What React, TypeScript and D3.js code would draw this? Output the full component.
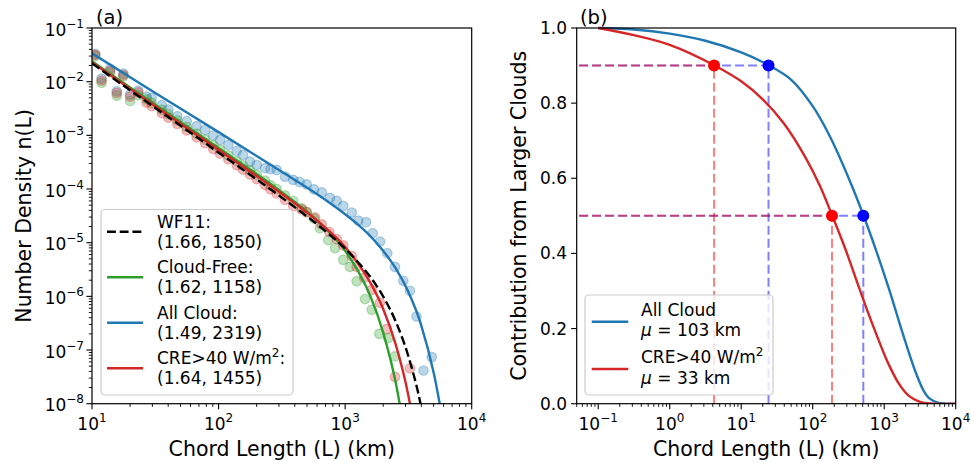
import React from "react";
import * as d3 from "d3";

const W = 971;
const H = 463;
const FONT = "'DejaVu Sans', sans-serif";

// ---------- Panel (a): fitted curves ----------
const fitL = [10, 31.6, 100, 316, 631, 1000, 1259, 1585, 1995, 2512, 3162, 3981, 5012, 6310];
const fitAllCloud = [3.39e-2, 6.17e-3, 1.148e-3, 2.09e-4, 7.41e-5, 3.39e-5, 2.19e-5, 1.318e-5, 7.08e-6, 3.31e-6, 1.2e-6, 2.95e-7, 3.72e-8, 2.0e-9];
const fitCRE = [2.29e-2, 3.47e-3, 5.37e-4, 8.13e-5, 2.34e-5, 8.32e-6, 4.17e-6, 1.78e-6, 5.89e-7, 1.26e-7, 1.41e-8, 5.0e-10];
const fitCloudFree = [2.4e-2, 3.72e-3, 5.82e-4, 8.71e-5, 2.34e-5, 7.08e-6, 3.02e-6, 1.0e-6, 2.14e-7, 2.45e-8, 1e-9];
const fitWF11 = [2.19e-2, 3.24e-3, 4.79e-4, 6.92e-5, 2.0e-5, 7.76e-6, 4.37e-6, 2.29e-6, 1.0e-6, 3.39e-7, 7.59e-8, 8.91e-9, 3.2e-10];

// ---------- Panel (a): observed histogram points ----------
const allCloudL = [10.6, 11.9, 13.9, 15.7, 17.7, 20.0, 23.2, 27.0, 29.6, 35.6, 40.1, 47.2, 56.0, 67.1, 78.2, 90.8, 102.6, 119.4, 139.0, 156.0, 177.0, 200.0, 232.8, 257, 287.7, 335.0, 389.0, 437, 496.6, 567.5, 653.1, 758.6, 857.0, 966.1, 1127, 1270, 1462, 1651, 1885, 2153, 2477, 2882, 3251, 3662, 4159, 4831];
const allCloudN = [3.28e-2, 1.14e-2, 1.75e-2, 6.62e-3, 1.41e-2, 5.73e-3, 6.79e-3, 5.26e-3, 4.97e-3, 3.64e-3, 3.01e-3, 2.27e-3, 1.83e-3, 1.48e-3, 1.26e-3, 9.95e-4, 8.2e-4, 6.62e-4, 5.12e-4, 4.31e-4, 3.24e-4, 2.81e-4, 2.44e-4, 2.34e-4, 2.27e-4, 1.7e-4, 1.48e-4, 1.35e-4, 1.22e-4, 9.84e-5, 8.65e-5, 6.83e-5, 6.0e-5, 4.84e-5, 3.64e-5, 2.58e-5, 2.41e-5, 1.5e-5, 1.05e-5, 6.37e-6, 3.54e-6, 1.95e-6, 1.27e-6, 4.21e-7, 4.15e-8, 7.38e-8];

const creL = [10.6, 11.9, 13.9, 15.7, 17.7, 20.0, 23.2, 27.0, 29.6, 35.6, 40.1, 47.2, 56.0, 67.1, 78.2, 90.8, 102.6, 119.4, 139.0, 156.0, 177.0, 200.0, 232.8, 257, 287.7, 335.0, 389.0, 454, 497, 578, 653, 750, 857, 966, 1127, 1233, 1413, 1622, 1884, 2128, 2477, 3251];
const creN = [3.16e-2, 1.05e-2, 1.58e-2, 6.17e-3, 1.32e-2, 5.25e-3, 6.31e-3, 4.09e-3, 3.52e-3, 2.61e-3, 2.14e-3, 1.64e-3, 1.24e-3, 9.2e-4, 7.18e-4, 5.61e-4, 4.59e-4, 3.58e-4, 2.79e-4, 2.31e-4, 1.87e-4, 1.53e-4, 1.2e-4, 9.95e-5, 8.26e-5, 6.31e-5, 4.81e-5, 4.17e-5, 3.72e-5, 2.95e-5, 2.19e-5, 1.58e-5, 1.17e-5, 8.91e-6, 5.62e-6, 3.55e-6, 2.24e-6, 1.32e-6, 7.59e-7, 2.45e-7, 3.16e-8, 4.57e-8];

const cloudFreeL = [10.6, 11.9, 13.9, 15.7, 17.7, 20.0, 23.2, 27.0, 29.6, 35.6, 40.1, 47.2, 56.0, 67.1, 78.2, 90.8, 102.6, 119.4, 139.0, 156.0, 177.0, 200.0, 232.8, 257, 287.7, 335.0, 389.0, 454, 497, 568, 632, 736, 832, 966, 1091, 1233, 1435, 1622, 1862, 2193, 2477];
const cloudFreeN = [3.02e-2, 9.55e-3, 1.51e-2, 5.5e-3, 1.26e-2, 4.37e-3, 5.62e-3, 4.68e-3, 4.03e-3, 3.0e-3, 2.47e-3, 1.9e-3, 1.44e-3, 1.07e-3, 8.38e-4, 6.58e-4, 5.4e-4, 4.22e-4, 3.3e-4, 2.74e-4, 2.23e-4, 1.83e-4, 1.43e-4, 1.17e-4, 1.0e-4, 7.59e-5, 6.03e-5, 4.37e-5, 3.72e-5, 2.82e-5, 1.86e-5, 1.12e-5, 7.94e-6, 4.79e-6, 3.55e-6, 1.91e-6, 8.91e-7, 5.62e-7, 2.0e-7, 1.66e-7, 7.59e-8];

// ---------- Panel (b): contribution from larger clouds ----------
const contribAllL = [0.1, 0.316, 1, 3.16, 10, 24.1, 50.1, 100, 170, 324, 509, 767, 1178, 1815, 2786, 3548, 4285, 5623, 7943, 10000];
const contribAll = [1.0, 0.996, 0.985, 0.966, 0.935, 0.901, 0.862, 0.792, 0.715, 0.597, 0.503, 0.409, 0.303, 0.187, 0.081, 0.035, 0.014, 0.003, 0.0, 0.0];
const contribCREL = [0.1, 0.316, 1, 4.17, 10, 20, 39.8, 79.4, 126, 186, 282, 398, 562, 794, 1122, 1585, 2239, 3162, 4467, 10000];
const contribCRE = [1.0, 0.981, 0.955, 0.901, 0.858, 0.81, 0.745, 0.655, 0.58, 0.502, 0.415, 0.335, 0.255, 0.18, 0.11, 0.055, 0.02, 0.005, 0.0005, 0.0];

const levels = [0.9, 0.5];
const levelAllL = [24.1, 510];
const levelCREL = [4.17, 186];
const guideStartL = 0.054;

const legendA = [
  { label: "WF11:", params: "(1.66, 1850)" },
  { label: "Cloud-Free:", params: "(1.62, 1158)" },
  { label: "All Cloud:", params: "(1.49, 2319)" },
  { label: "CRE>40 W/m", params: "(1.64, 1455)" },
];

const C_BLUE = "#1f77b4";
const C_GREEN = "#2ca02c";
const C_RED = "#d62728";

const A = { x0: 92, x1: 471.7, y0: 28, y1: 403.7 };
const B = { x0: 576.7, x1: 955.7, y0: 28, y1: 403.7 };

const xa = d3.scaleLog().domain([10, 1e4]).range([A.x0, A.x1]);
const ya = d3.scaleLog().domain([1e-8, 1e-1]).range([A.y1, A.y0]);
const xb = d3.scaleLog().domain([0.05, 1e4]).range([B.x0, B.x1]);
const yb = d3.scaleLinear().domain([0, 1]).range([B.y1, B.y0]);

function minorTicks(domain: number[], lo: number, hi: number) {
  const out: number[] = [];
  for (let e = lo; e <= hi; e++) {
    for (let k = 2; k <= 9; k++) {
      const v = k * Math.pow(10, e);
      if (v >= domain[0] * 0.9999 && v <= domain[1] * 1.0001) out.push(v);
    }
  }
  return out;
}

const TICK = 17;
const SUP = 12;

function PowLabel({ x, y, exp, anchor }: { x: number; y: number; exp: number; anchor: string }) {
  const e = exp < 0 ? "\u2212" + Math.abs(exp) : String(exp);
  return (
    <text x={x} y={y} textAnchor={anchor as any} fontSize={TICK} fontFamily={FONT} fill="#000">
      10
      <tspan dy={-8} fontSize={SUP}>{e}</tspan>
    </text>
  );
}

function zipLine(xs: number[], ys: number[], sx: any, sy: any) {
  const pts = xs.map((x, i) => [x, ys[i]] as [number, number]).filter((p) => p[1] !== undefined);
  return d3
    .line<[number, number]>()
    .x((d) => sx(d[0]))
    .y((d) => sy(Math.max(d[1], 1e-12)))
    .curve(d3.curveMonotoneX)(pts) as string;
}

export default function App() {
  const lineB = (xs: number[], ys: number[]) =>
    d3
      .line<[number, number]>()
      .x((d) => xb(d[0]))
      .y((d) => yb(d[1]))
      .curve(d3.curveCatmullRom.alpha(0.5))(xs.map((x, i) => [x, ys[i]] as [number, number])) as string;

  const aMajorX = [10, 100, 1000, 10000];
  const aMajorY = [-8, -7, -6, -5, -4, -3, -2, -1];
  const aMinorX = minorTicks([10, 1e4], 1, 3);
  const aMinorY = minorTicks([1e-8, 1e-1], -8, -2);
  const bMajorX = [-1, 0, 1, 2, 3, 4];
  const bMinorX = minorTicks([0.05, 1e4], -2, 3);
  const bMajorY = [0, 0.2, 0.4, 0.6, 0.8, 1.0];

  const scatter = (xs: number[], ys: number[], color: string, key: string) =>
    xs.map((x, i) => (
      <circle
        key={key + i}
        cx={xa(x)}
        cy={ya(ys[i])}
        r={4.8}
        fill={color}
        fillOpacity={0.3}
        stroke={color}
        strokeOpacity={0.3}
        strokeWidth={1.2}
      />
    ));

  return (
    <svg width={W} height={H} viewBox={`0 0 ${W} ${H}`} style={{ display: "block", position: "absolute", left: 0, top: 0 }} fontFamily={FONT}>
      <rect x={0} y={0} width={W} height={H} fill="#fff" />
      <defs>
        <clipPath id="clipA">
          <rect x={A.x0} y={A.y0} width={A.x1 - A.x0} height={A.y1 - A.y0} />
        </clipPath>
        <clipPath id="clipB">
          <rect x={B.x0} y={B.y0 - 2} width={B.x1 - B.x0} height={B.y1 - B.y0 + 2} />
        </clipPath>
      </defs>

      {/* ================= Panel (a) ================= */}
      <g clipPath="url(#clipA)">
        {scatter(allCloudL, allCloudN, C_BLUE, "b")}
        {scatter(cloudFreeL, cloudFreeN, C_GREEN, "g")}
        {scatter(creL, creN, C_RED, "r")}
        <path d={zipLine(fitL, fitCloudFree, xa, ya)} fill="none" stroke={C_GREEN} strokeWidth={2.4} />
        <path d={zipLine(fitL, fitAllCloud, xa, ya)} fill="none" stroke={C_BLUE} strokeWidth={2.4} />
        <path d={zipLine(fitL, fitCRE, xa, ya)} fill="none" stroke={C_RED} strokeWidth={2.4} />
        <path d={zipLine(fitL, fitWF11, xa, ya)} fill="none" stroke="#000" strokeWidth={2.4} strokeDasharray="8.9 3.8" />
      </g>
      <rect x={A.x0} y={A.y0} width={A.x1 - A.x0} height={A.y1 - A.y0} fill="none" stroke="#000" strokeWidth={1.2} />

      {/* ticks a */}
      {aMajorX.map((v) => (
        <g key={"axm" + v}>
          <line x1={xa(v)} x2={xa(v)} y1={A.y1} y2={A.y1 + 5.6} stroke="#000" strokeWidth={1.1} />
          <PowLabel x={xa(v)} y={430} exp={Math.round(Math.log10(v))} anchor="middle" />
        </g>
      ))}
      {aMinorX.map((v) => (
        <line key={"axn" + v} x1={xa(v)} x2={xa(v)} y1={A.y1} y2={A.y1 + 3.2} stroke="#000" strokeWidth={0.9} />
      ))}
      {aMajorY.map((e) => (
        <g key={"aym" + e}>
          <line x1={A.x0 - 5.6} x2={A.x0} y1={ya(Math.pow(10, e))} y2={ya(Math.pow(10, e))} stroke="#000" strokeWidth={1.1} />
          <PowLabel x={84} y={ya(Math.pow(10, e)) + 7.5} exp={e} anchor="end" />
        </g>
      ))}
      {aMinorY.map((v, i) => (
        <line key={"ayn" + i} x1={A.x0 - 3.2} x2={A.x0} y1={ya(v)} y2={ya(v)} stroke="#000" strokeWidth={0.9} />
      ))}

      <text x={(A.x0 + A.x1) / 2} y={456} textAnchor="middle" fontSize={20.5}>Chord Length (L) (km)</text>
      <text transform={`translate(31, ${(A.y0 + A.y1) / 2}) rotate(-90)`} textAnchor="middle" fontSize={20.5}>Number Density n(L)</text>
      <text x={96} y={24} fontSize={19.5}>(a)</text>

      {/* legend a */}
      <rect x={101} y={209.5} width={192} height={185.5} rx={4} fill="#fff" fillOpacity={0.8} stroke="#cccccc" strokeWidth={1.2} />
      {legendA.map((d, i) => {
        const cy = 221.7 + i * 45.5;
        const color = [null, C_GREEN, C_BLUE, C_RED][i];
        return (
          <g key={"la" + i}>
            <line
              x1={107}
              x2={143}
              y1={cy + 10}
              y2={cy + 10}
              stroke={color || "#000"}
              strokeWidth={2.4}
              strokeDasharray={color ? undefined : "8.9 3.8"}
            />
            <text x={157} y={cy + 6.2} fontSize={17}>
              {d.label}
              {i === 3 ? (
                <>
                  <tspan dy={-7} fontSize={12}>2</tspan>
                  <tspan dy={7}>:</tspan>
                </>
              ) : null}
            </text>
            <text x={157} y={cy + 26.2} fontSize={17}>{d.params}</text>
          </g>
        );
      })}

      {/* ================= Panel (b) ================= */}
      <g clipPath="url(#clipB)">
        {levels.map((lv, i) => (
          <g key={"g" + i}>
            <line x1={xb(guideStartL)} x2={xb(levelAllL[i])} y1={yb(lv)} y2={yb(lv)} stroke="#0000ff" strokeOpacity={0.5} strokeWidth={2} strokeDasharray="9 4" />
            <line x1={xb(guideStartL)} x2={xb(levelCREL[i])} y1={yb(lv)} y2={yb(lv)} stroke="#ff0000" strokeOpacity={0.5} strokeWidth={2} strokeDasharray="9 4" />
            <line x1={xb(levelAllL[i])} x2={xb(levelAllL[i])} y1={yb(0)} y2={yb(lv)} stroke="#0000ff" strokeOpacity={0.5} strokeWidth={2} strokeDasharray="9 4" />
            <line x1={xb(levelCREL[i])} x2={xb(levelCREL[i])} y1={yb(0)} y2={yb(lv)} stroke="#ff0000" strokeOpacity={0.5} strokeWidth={2} strokeDasharray="9 4" />
          </g>
        ))}
        <path d={lineB(contribAllL, contribAll)} fill="none" stroke={C_BLUE} strokeWidth={2.4} />
        <path d={lineB(contribCREL, contribCRE)} fill="none" stroke={C_RED} strokeWidth={2.4} />
        {levels.map((lv, i) => (
          <g key={"dots" + i}>
            <circle cx={xb(levelCREL[i])} cy={yb(lv)} r={6} fill="#ff0000" />
            <circle cx={xb(levelAllL[i])} cy={yb(lv)} r={6} fill="#0000ff" />
          </g>
        ))}
      </g>
      <rect x={B.x0} y={B.y0} width={B.x1 - B.x0} height={B.y1 - B.y0} fill="none" stroke="#000" strokeWidth={1.2} />

      {bMajorX.map((e) => (
        <g key={"bxm" + e}>
          <line x1={xb(Math.pow(10, e))} x2={xb(Math.pow(10, e))} y1={B.y1} y2={B.y1 + 5.6} stroke="#000" strokeWidth={1.1} />
          <PowLabel x={xb(Math.pow(10, e))} y={430} exp={e} anchor="middle" />
        </g>
      ))}
      {bMinorX.map((v, i) => (
        <line key={"bxn" + i} x1={xb(v)} x2={xb(v)} y1={B.y1} y2={B.y1 + 3.2} stroke="#000" strokeWidth={0.9} />
      ))}
      {bMajorY.map((v) => (
        <g key={"bym" + v}>
          <line x1={B.x0 - 5.6} x2={B.x0} y1={yb(v)} y2={yb(v)} stroke="#000" strokeWidth={1.1} />
          <text x={567} y={yb(v) + 6} textAnchor="end" fontSize={TICK}>{v.toFixed(1)}</text>
        </g>
      ))}

      <text x={(B.x0 + B.x1) / 2} y={456} textAnchor="middle" fontSize={20.5}>Chord Length (L) (km)</text>
      <text transform={`translate(526, ${(B.y0 + B.y1) / 2}) rotate(-90)`} textAnchor="middle" fontSize={20.5}>Contribution from Larger Clouds</text>
      <text x={580} y={24} fontSize={19.5}>(b)</text>

      {/* legend b */}
      <rect x={585} y={295} width={188} height={100} rx={4} fill="#fff" fillOpacity={0.8} stroke="#cccccc" strokeWidth={1.2} />
      <line x1={591.7} x2={628.3} y1={321.7} y2={321.7} stroke={C_BLUE} strokeWidth={2.4} />
      <text x={641} y={315.5} fontSize={17}>All Cloud</text>
      <text x={641} y={335.5} fontSize={17}>
        <tspan fontStyle="italic">μ</tspan> = 103 km
      </text>
      <line x1={591.7} x2={628.3} y1={369} y2={369} stroke={C_RED} strokeWidth={2.4} />
      <text x={641} y={363} fontSize={17}>
        CRE&gt;40 W/m<tspan dy={-7} fontSize={12}>2</tspan>
      </text>
      <text x={641} y={384} fontSize={17}>
        <tspan fontStyle="italic">μ</tspan> = 33 km
      </text>
    </svg>
  );
}
